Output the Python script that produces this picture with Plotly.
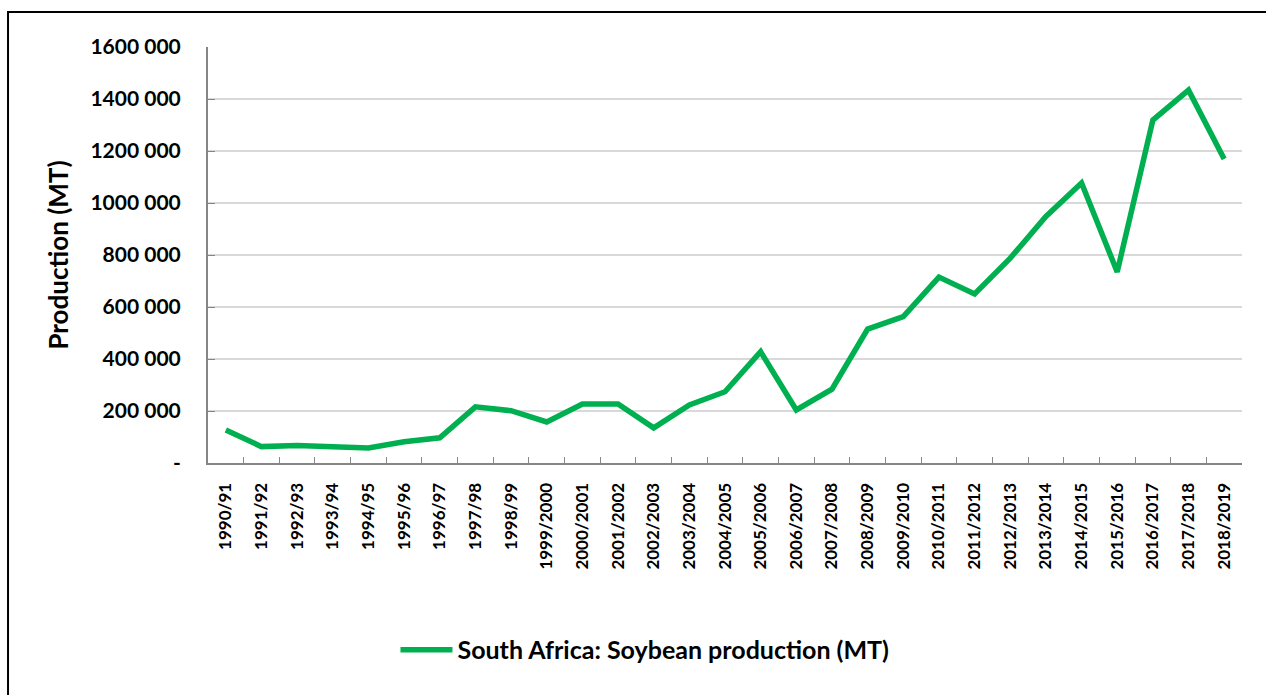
import plotly.graph_objects as go

seasons = ["1990/91", "1991/92", "1992/93", "1993/94", "1994/95", "1995/96", "1996/97",
           "1997/98", "1998/99", "1999/2000", "2000/2001", "2001/2002", "2002/2003",
           "2003/2004", "2004/2005", "2005/2006", "2006/2007", "2007/2008", "2008/2009",
           "2009/2010", "2010/2011", "2011/2012", "2012/2013", "2013/2014", "2014/2015",
           "2015/2016", "2016/2017", "2017/2018", "2018/2019"]
production = [127000, 63000, 67000, 63000, 58000, 82000, 97000,
              216000, 201000, 158000, 227000, 227000, 135000,
              223000, 274000, 428000, 204000, 284000, 515000,
              563000, 715000, 650000, 788000, 948000, 1077000,
              735000, 1319000, 1434000, 1169000]
y_tick_vals = [0, 200000, 400000, 600000, 800000, 1000000, 1200000, 1400000, 1600000]
y_tick_text = ["-", "200 000", "400 000", "600 000", "800 000", "1000 000",
               "1200 000", "1400 000", "1600 000"]
series_name = "South Africa: Soybean production (MT)"

FONT = "Lato"

fig = go.Figure()
fig.add_trace(go.Scatter(
    x=seasons, y=production, mode="lines", name=series_name,
    line=dict(color="#00B050", width=5.5),
))

fig.update_layout(
    width=1266, height=695,
    margin=dict(l=208, r=24, t=47, b=232),
    paper_bgcolor="white", plot_bgcolor="white",
    font=dict(family=FONT, color="black", size=14, weight="bold"),
    showlegend=True,
    legend=dict(orientation="h", x=0.4226, xanchor="center", y=-0.4495, yanchor="middle",
                font=dict(family=FONT, size=25, weight="bold"), itemwidth=52),
    xaxis=dict(
        type="category", range=[-0.5, len(seasons) - 0.5],
        tickangle=-90, tickson="boundaries", ticks="inside", ticklen=6,
        tickcolor="#868686", showline=True, linecolor="#868686", linewidth=2,
        showgrid=False, tickfont=dict(family=FONT, size=17, weight="bold"),
        ticklabelstandoff=11,
    ),
    yaxis=dict(
        range=[0, 1600000], tickvals=y_tick_vals, ticktext=y_tick_text,
        ticks="inside", ticklen=7, tickcolor="#868686",
        showline=True, linecolor="#868686", linewidth=2,
        showgrid=True, gridcolor="#d9d9d9", gridwidth=2, zeroline=False,
        tickfont=dict(family=FONT, size=21, weight="bold"),
        ticklabelstandoff=21,
        title=dict(text="Production (MT)", font=dict(family=FONT, size=26, weight="bold"),
                   standoff=14),
    ),
    shapes=[dict(type="rect", xref="paper", yref="paper",
                 x0=-0.1934, x1=1.2, y0=-1.0, y1=1.084,
                 line=dict(color="black", width=2), fillcolor="rgba(0,0,0,0)")],
)

fig.write_html(
    "out.html",
    config={"displayModeBar": False},
    post_script="document.body.style.margin='0';document.body.style.overflow='hidden';",
)
